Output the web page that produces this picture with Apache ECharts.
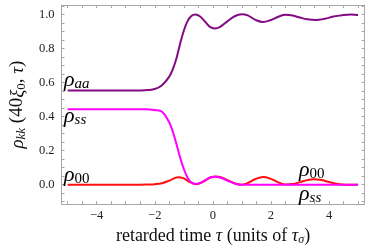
<!DOCTYPE html>
<html>
<head>
<meta charset="utf-8">
<script src="https://cdn.jsdelivr.net/npm/echarts@6/dist/echarts.min.js"></script>
<style>html,body{margin:0;padding:0;background:#fff}#c{width:371px;height:251px}</style>
</head>
<body>
<div id="c"></div>
<script>
var tauAA = [-5, -3, -2.5, -2.25, -2, -1.75, -1.5, -1.375, -1.25, -1.125, -1, -0.875, -0.75, -0.6, -0.45, -0.25, -0.1, 0.07, 0.25, 0.5, 0.75, 1.0, 1.2, 1.45, 1.73, 2.0, 2.25, 2.5, 2.75, 3.0, 3.25, 3.55, 3.85, 4.15, 4.45, 4.75, 5.0];
var rhoAA = [0.553, 0.553, 0.554, 0.556, 0.562, 0.585, 0.635, 0.68, 0.745, 0.83, 0.905, 0.96, 0.99, 1.0, 0.99, 0.955, 0.927, 0.918, 0.928, 0.96, 0.99, 1.002, 0.995, 0.97, 0.956, 0.968, 0.987, 0.999, 0.994, 0.982, 0.972, 0.968, 0.975, 0.988, 0.996, 1.0, 0.997];
var tauSS = [-5, -3, -2.5, -2.25, -2, -1.75, -1.5, -1.375, -1.25, -1.125, -1, -0.875, -0.75, -0.6, -0.45, -0.25, -0.1, 0.07, 0.25, 0.5, 0.75, 0.95, 1.2, 5.0];
var rhoSS = [0.444, 0.444, 0.444, 0.443, 0.439, 0.428, 0.365, 0.31, 0.237, 0.158, 0.093, 0.042, 0.014, 0.004, 0.01, 0.027, 0.042, 0.047, 0.042, 0.024, 0.007, 0.0, 0.0, 0.0];
var tau00 = [-5, -2.5, -2.25, -2, -1.75, -1.5, -1.375, -1.2, -1.0, -0.875, -0.75, -0.6, -0.45, -0.25, -0.1, 0.1, 0.3, 0.5, 0.75, 0.97, 1.2, 1.45, 1.73, 2.0, 2.25, 2.5, 2.75, 3.0, 3.25, 3.48, 3.75, 4.0, 4.25, 4.45, 4.7, 5.0];
var rho00 = [0, 0, 0.001, 0.003, 0.009, 0.024, 0.034, 0.044, 0.037, 0.024, 0.012, 0.003, 0.008, 0.026, 0.041, 0.048, 0.042, 0.027, 0.008, 0.0, 0.01, 0.032, 0.045, 0.034, 0.014, 0.001, 0.004, 0.015, 0.027, 0.032, 0.027, 0.016, 0.006, 0.001, 0, 0];
var xLabels = [-4, -2, 0, 2, 4];
var yLabels = [0, 0.2, 0.4, 0.6, 0.8, 1.0];
var xTicks = [-5, -4.5, -4, -3.5, -3, -2.5, -2, -1.5, -1, -0.5, 0, 0.5, 1, 1.5, 2, 2.5, 3, 3.5, 4, 4.5, 5];
var yTicks = [-0.1, -0.05, 0, 0.05, 0.1, 0.15, 0.2, 0.25, 0.3, 0.35, 0.4, 0.45, 0.5, 0.55, 0.6, 0.65, 0.7, 0.75, 0.8, 0.85, 0.9, 0.95, 1.0, 1.05];

var FONT = 'Liberation Serif';
var frame = '#a8a8a8';
function pairs(xs, ys){ return xs.map(function(t,i){ return [t, ys[i]]; }); }

var chart = echarts.init(document.getElementById('c'));
function xAxisDef(pos, labels){
  return {
    type: 'value', position: pos, min: -5.21, max: 5.22,
    axisLine: {show: true, onZero: false, lineStyle: {color: frame, width: 1}},
    axisTick: {show: true, inside: true, length: 3, customValues: xTicks, lineStyle: {color: frame}},
    axisLabel: {show: labels, customValues: xLabels, margin: 5, fontFamily: FONT, fontSize: 12.5, color: '#222',
      formatter: function(v){ return (v < 0 ? '\u2212' + (-v) : '' + v); }},
    splitLine: {show: false},
    name: labels ? 'retarded time {i|τ} (units of {i|τ}{sub|σ})' : '',
    nameLocation: 'middle', nameGap: 20,
    nameTextStyle: {fontFamily: FONT, fontSize: 18, color: '#111',
      rich: {i: {fontFamily: FONT, fontStyle: 'italic', fontSize: 18, color: '#111'},
             sub: {fontFamily: FONT, fontStyle: 'italic', fontSize: 12, color: '#111', padding: [8, 0, 0, 0]}}}
  };
}
function yAxisDef(pos, labels){
  return {
    type: 'value', position: pos, min: -0.114, max: 1.056,
    axisLine: {show: true, onZero: false, lineStyle: {color: frame, width: 1}},
    axisTick: {show: true, inside: true, length: 3, customValues: yTicks, lineStyle: {color: frame}},
    axisLabel: {show: labels, customValues: yLabels, margin: 7, fontFamily: FONT, fontSize: 12.5, color: '#222',
      formatter: function(v){ return v.toFixed(1); }},
    splitLine: {show: false},
    name: labels ? '{i|ρ}{sub|kk} (40{i|ξ}{sub0|0}, {i|τ})' : '',
    nameLocation: 'middle', nameGap: 32, nameRotate: 90,
    nameTextStyle: {fontFamily: FONT, fontSize: 19, color: '#111',
      rich: {i: {fontFamily: FONT, fontStyle: 'italic', fontSize: 19, color: '#111'},
             sub: {fontFamily: FONT, fontStyle: 'italic', fontSize: 13, color: '#111', padding: [8, 0, 0, 0]},
             sub0: {fontFamily: FONT, fontSize: 13, color: '#111', padding: [8, 0, 0, 0]}}}
  };
}

var lblRich = {
  r: {fontFamily: FONT, fontStyle: 'italic', fontSize: 22, color: '#111'},
  s: {fontFamily: FONT, fontStyle: 'italic', fontSize: 15, color: '#111', padding: [8, 0, 0, 0]},
  z: {fontFamily: FONT, fontSize: 15, color: '#111', padding: [8, 0, 0, 0]}
};
function lbl(x, y, txt){
  return {type: 'text', left: x, top: y, z: 100, style: {text: txt, rich: lblRich, fontFamily: FONT}};
}

chart.setOption({
  animation: false,
  grid: {left: 52, top: 5, right: 6.5, bottom: 41},
  xAxis: [xAxisDef('bottom', true), xAxisDef('top', false)],
  yAxis: [yAxisDef('left', true), yAxisDef('right', false)],
  series: [
    {type: 'line', data: pairs(tauAA, rhoAA), smooth: 0.4, showSymbol: false, lineStyle: {color: '#820a82', width: 2}},
    {type: 'line', data: pairs(tau00, rho00), smooth: 0.4, showSymbol: false, lineStyle: {color: '#ff1010', width: 2}},
    {type: 'line', data: pairs(tauSS, rhoSS), smooth: 0.4, showSymbol: false, lineStyle: {color: '#ff00ff', width: 2}}
  ],
  graphic: [
    lbl(64, 69, '{r|ρ}{s|aa}'),
    lbl(64, 105, '{r|ρ}{s|ss}'),
    lbl(64, 164, '{r|ρ}{z|00}'),
    lbl(299, 159, '{r|ρ}{z|00}'),
    lbl(299, 183, '{r|ρ}{s|ss}')
  ]
});
</script>
</body>
</html>
